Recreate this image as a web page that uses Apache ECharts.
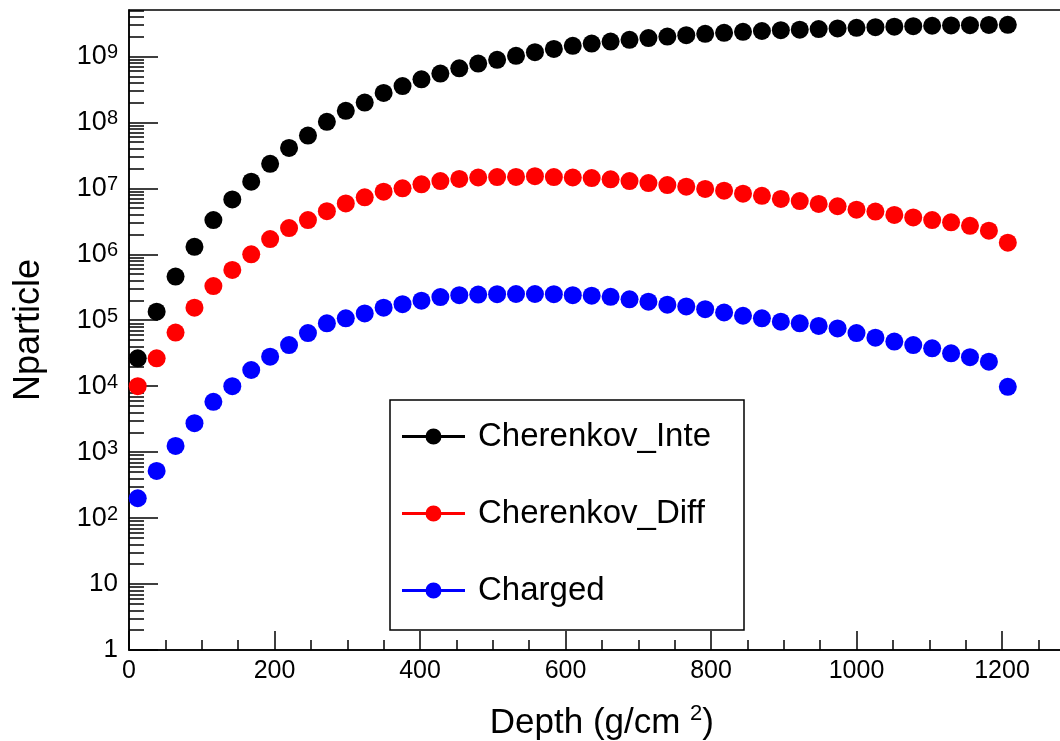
<!DOCTYPE html>
<html>
<head>
<meta charset="utf-8">
<script src="https://cdn.jsdelivr.net/npm/echarts@6/dist/echarts.min.js"></script>
<style>
  html, body { margin: 0; padding: 0; background: #fff; }
  #chart { width: 1060px; height: 741px; }
</style>
</head>
<body>
<div id="chart"></div>
<script>
// Shower depth (g/cm^2) sampled along the profile
const depth = [12, 38, 64, 90, 116, 142, 168, 194, 220, 246, 272, 298, 324, 350, 376, 402,
  428, 454, 480, 506, 532, 558, 584, 610, 636, 662, 688, 714, 740, 766, 792, 818,
  844, 870, 896, 922, 948, 974, 1000, 1026, 1052, 1078, 1104, 1130, 1156, 1182, 1208];

// Integrated Cherenkov photons
const cherenkovInte = [2.65e4, 1.35e5, 4.6e5, 1.3e6, 3.3e6, 6.8e6, 1.26e7, 2.35e7, 4.1e7, 6.3e7,
  1.02e8, 1.5e8, 2.0e8, 2.8e8, 3.55e8, 4.5e8, 5.5e8, 6.6e8, 7.8e8, 8.9e8,
  1.02e9, 1.16e9, 1.3e9, 1.45e9, 1.57e9, 1.68e9, 1.79e9, 1.9e9, 2.0e9, 2.1e9,
  2.2e9, 2.28e9, 2.36e9, 2.43e9, 2.5e9, 2.55e9, 2.6e9, 2.66e9, 2.72e9, 2.78e9,
  2.83e9, 2.88e9, 2.92e9, 2.95e9, 2.98e9, 3.0e9, 3.02e9];

// Differential Cherenkov photons
const cherenkovDiff = [1.0e4, 2.65e4, 6.5e4, 1.55e5, 3.3e5, 5.8e5, 1.0e6, 1.7e6, 2.5e6, 3.3e6,
  4.5e6, 5.9e6, 7.3e6, 8.9e6, 1.0e7, 1.15e7, 1.29e7, 1.39e7, 1.46e7, 1.48e7,
  1.49e7, 1.53e7, 1.48e7, 1.46e7, 1.43e7, 1.37e7, 1.29e7, 1.2e7, 1.12e7, 1.06e7,
  9.8e6, 9.2e6, 8.3e6, 7.7e6, 6.9e6, 6.4e6, 5.8e6, 5.35e6, 4.75e6, 4.45e6,
  3.95e6, 3.62e6, 3.3e6, 3.05e6, 2.7e6, 2.28e6, 1.5e6];

// Charged particles
const charged = [200, 520, 1240, 2750, 5800, 1.0e4, 1.76e4, 2.8e4, 4.2e4, 6.4e4,
  9.0e4, 1.07e5, 1.27e5, 1.55e5, 1.75e5, 1.98e5, 2.25e5, 2.4e5, 2.45e5, 2.48e5,
  2.5e5, 2.5e5, 2.48e5, 2.4e5, 2.36e5, 2.27e5, 2.08e5, 1.91e5, 1.72e5, 1.62e5,
  1.47e5, 1.31e5, 1.17e5, 1.07e5, 9.5e4, 9.0e4, 8.2e4, 7.5e4, 6.4e4, 5.45e4,
  4.75e4, 4.2e4, 3.75e4, 3.15e4, 2.75e4, 2.35e4, 9.8e3];

const seriesNames = ['Cherenkov_Inte', 'Cherenkov_Diff', 'Charged'];
const seriesColors = ['#000000', '#ff0000', '#0000ff'];

// Axis tick positions
const xMajorTicks = [0, 200, 400, 600, 800, 1000, 1200];
const xMinorTicks = [];
for (let v = 50; v < 1300; v += 50) if (v % 200 !== 0) xMinorTicks.push(v);
const yMajorTicks = [1, 10, 1e2, 1e3, 1e4, 1e5, 1e6, 1e7, 1e8, 1e9];
const yMinorTicks = [];
for (let d = 0; d <= 9; d++) for (let k = 2; k <= 9; k++) {
  const v = k * Math.pow(10, d);
  if (v <= 5e9) yMinorTicks.push(v);
}

const FONT = '"Liberation Sans", Arial, Helvetica, sans-serif';
const X_MAX = 1300;
const Y_MAX = 5.06e9;

const toPairs = (ys) => depth.map((d, i) => [d, ys[i]]);
const values = [cherenkovInte, cherenkovDiff, charged];

// legend icon: short line with a dot in the middle
const legendIcon = 'path://M0,6.5L63,6.5L63,9.5L0,9.5Z M31.5,0A8,8 0 1,1 31.49,0Z';

const chart = echarts.init(document.getElementById('chart'), null, { renderer: 'canvas' });

const axisLineStyle = { color: '#000', width: 1.5 };

chart.setOption({
  animation: false,
  backgroundColor: '#fff',
  grid: {
    left: 129, top: 10, right: 1060 - (129 + X_MAX * 0.7275), bottom: 91,
    show: true, borderColor: '#000', borderWidth: 1.5, backgroundColor: 'transparent',
    containLabel: false, outerBoundsMode: 'none'
  },
  xAxis: [{
    type: 'value', min: 0, max: X_MAX,
    axisLine: { show: true, onZero: false, lineStyle: axisLineStyle },
    axisTick: { show: true, inside: true, length: 19, customValues: xMajorTicks, lineStyle: axisLineStyle },
    axisLabel: {
      customValues: xMajorTicks, fontSize: 25, fontFamily: FONT, color: '#000', margin: 9,
      formatter: (v) => String(v)
    },
    splitLine: { show: false },
    name: 'Depth (g/cm {s|2})',
    nameLocation: 'middle', nameGap: 53,
    nameTextStyle: {
      fontSize: 35, fontFamily: FONT, color: '#000', lineHeight: 40,
      rich: { s: { fontSize: 22, fontFamily: FONT, color: '#000', verticalAlign: 'top', lineHeight: 24 } }
    }
  }, {
    type: 'value', min: 0, max: X_MAX, position: 'bottom',
    axisLine: { show: false },
    axisTick: { show: true, inside: true, length: 10, customValues: xMinorTicks, lineStyle: axisLineStyle },
    axisLabel: { show: false },
    splitLine: { show: false }
  }],
  yAxis: [{
    type: 'log', logBase: 10, min: 1, max: Y_MAX,
    axisLine: { show: true, onZero: false, lineStyle: axisLineStyle },
    axisTick: { show: true, inside: true, length: 29, customValues: yMajorTicks, lineStyle: axisLineStyle },
    axisLabel: {
      customValues: yMajorTicks, fontSize: 26, fontFamily: FONT, color: '#000', margin: 11,
      formatter: (v) => {
        const e = Math.round(Math.log10(v));
        if (e === 0) return '1';
        if (e === 1) return '10';
        return '{b|10}{e|' + e + '}';
      },
      rich: {
        b: { fontSize: 27, fontFamily: FONT, color: '#000', lineHeight: 27, verticalAlign: 'bottom' },
        e: { fontSize: 20, fontFamily: FONT, color: '#000', lineHeight: 20, verticalAlign: 'top' }
      }
    },
    splitLine: { show: false },
    name: 'Nparticle', nameLocation: 'middle', nameGap: 82,
    nameTextStyle: { fontSize: 36, fontFamily: FONT, color: '#000' }
  }, {
    type: 'log', logBase: 10, min: 1, max: Y_MAX, position: 'left',
    axisLine: { show: false },
    axisTick: { show: true, inside: true, length: 15, customValues: yMinorTicks, lineStyle: axisLineStyle },
    axisLabel: { show: false },
    splitLine: { show: false }
  }],
  legend: {
    orient: 'vertical', left: 390, top: 400,
    padding: [20, 4, 23, 12], itemGap: 44, itemWidth: 63, itemHeight: 16,
    backgroundColor: '#fff', borderColor: '#000', borderWidth: 1.5,
    data: seriesNames.map((n) => ({ name: n, icon: legendIcon })),
    textStyle: { fontSize: 33, fontFamily: FONT, color: '#000', lineHeight: 32, width: 262, padding: [0, 0, 0, 8] }
  },
  series: seriesNames.map((name, i) => ({
    name, type: 'scatter',
    xAxisIndex: 0, yAxisIndex: 0,
    data: toPairs(values[i]),
    symbol: 'circle', symbolSize: 18,
    itemStyle: { color: seriesColors[i], opacity: 1 },
    emphasis: { disabled: true },
    z: 3
  }))
});
</script>
</body>
</html>
